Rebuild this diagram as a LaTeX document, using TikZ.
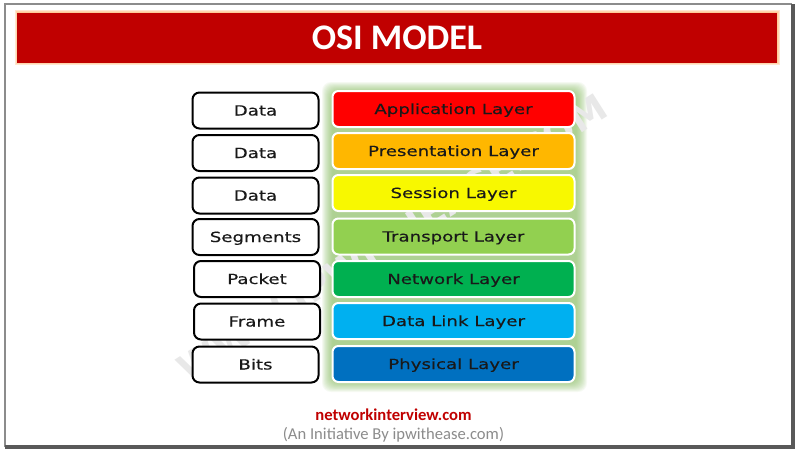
\documentclass[tikz,border=0pt]{standalone}
\usepackage{fontspec}
\setmainfont{DejaVu Sans}
\newfontfamily\carlito{Carlito}
\newfontfamily\widefont[FakeStretch=1.3,FakeBold=0.3]{DejaVu Sans}
\usepackage{tikz}
\usetikzlibrary{positioning}
\definecolor{titlered}{RGB}{192,0,0}
\definecolor{glowgreen}{RGB}{135,190,95}
\tikzset{
  databox/.style={draw=black, line width=2pt, rounded corners=7pt, fill=white,
    minimum width=126pt, minimum height=36pt, inner sep=0pt, text height=11.5pt, text depth=1.5pt,
    font=\widefont\fontsize{14}{14}\selectfont, text=black!90},
  layerbox/.style={draw=white, line width=2pt, rounded corners=6pt,
    minimum width=242pt, minimum height=36pt, inner sep=0pt, text height=11.5pt, text depth=1.5pt,
    font=\widefont\fontsize{14}{14}\selectfont, text=black!90},
}
\begin{document}
\begin{tikzpicture}[x=1pt, y=-1pt, node distance=4pt]
    \useasboundingbox (0,0) rectangle (800,455);
    \fill[white] (0,0) rectangle (800,455);

    % Page frame
    \draw[black!45, line width=1.5pt] (5,447) -- (5,4) -- (792,4);
    \draw[black!65, line width=3.5pt] (5,447) -- (793,447) -- (793,4);

    % Title bar
    \foreach \g in {0,1,2}
      \fill[orange!60, opacity=0.3] (15+\g,10+\g) rectangle (780-\g,65-\g);
    \node[fill=titlered, minimum width=760pt, minimum height=50pt, inner sep=0pt] (title) at (397,37.5)
      {\carlito\bfseries\fontsize{36}{36}\selectfont\color{white}OSI MODEL};

    % Green glow behind the layers
    \foreach \g in {0,1,...,13}
      \fill[glowgreen, opacity=0.07, rounded corners=9pt]
        (322+0.8*\g,82+0.8*\g) rectangle (587-0.8*\g,392-0.8*\g);

    % Watermark
    \node[rotate=32.5, text=black!9, font=\bfseries\fontsize{37}{37}\selectfont] (mark) at (392,238) {WWW.IPWITHEASE.COM};

    % Layers
    \node[layerbox, fill={rgb,255:red,255;green,0;blue,0}] (app) at (453.5,109) {Application Layer};
    \node[layerbox, fill={rgb,255:red,255;green,183;blue,0}, below=of app] (pres) {Presentation Layer};
    \node[layerbox, fill={rgb,255:red,248;green,248;blue,0}, below=of pres] (sess) {Session Layer};
    \node[layerbox, fill={rgb,255:red,146;green,208;blue,80}, below=of sess, yshift=-1.5pt] (trans) {Transport Layer};
    \node[layerbox, fill={rgb,255:red,0;green,176;blue,80}, below=of trans, yshift=-0.5pt] (net) {Network Layer};
    \node[layerbox, fill={rgb,255:red,0;green,176;blue,240}, below=of net] (link) {Data Link Layer};
    \node[layerbox, fill={rgb,255:red,0;green,112;blue,192}, below=of link, yshift=-1pt] (phys) {Physical Layer};

    % Data units
    \node[databox] (d1) at (255.5,110.5) {Data};
    \node[databox] (d2) at (255.5,153) {Data};
    \node[databox] (d3) at (255.5,195.5) {Data};
    \node[databox] (d4) at (255.5,237) {Segments};
    \node[databox] (d5) at (257,279) {Packet};
    \node[databox] (d6) at (257,321.5) {Frame};
    \node[databox] (d7) at (255.5,364.5) {Bits};

    % Footer
    \node[text=titlered, font=\carlito\bfseries\fontsize{16.6}{17}\selectfont] (site) at (393.5,414.5) {networkinterview.com};
    \node[text=black!45, font=\carlito\fontsize{16.6}{17}\selectfont, below=0pt of site] (sub) {(An Initiative By ipwithease.com)};
\end{tikzpicture}
\end{document}
